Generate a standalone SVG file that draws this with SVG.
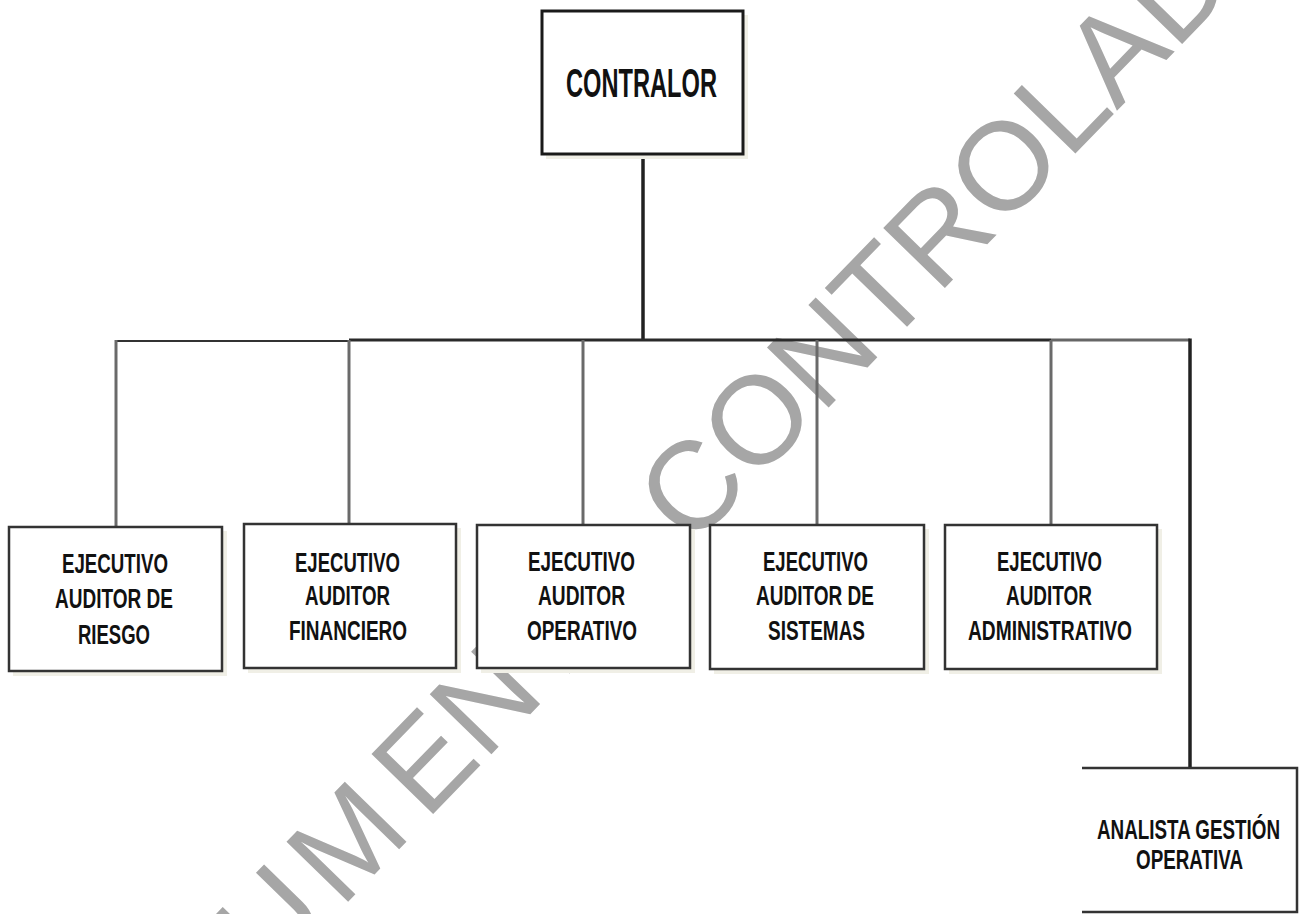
<svg xmlns="http://www.w3.org/2000/svg" width="1299" height="914" viewBox="0 0 1299 914">
<style>
.bg{fill:#ffffff}
.wm{font-family:"Liberation Sans",Arial,sans-serif;font-size:125px;fill:#a6a6a6}
.shadow{fill:#f0efe6;stroke:none}
.box{fill:#ffffff;stroke:#333333;stroke-width:2.5}
.top{fill:#ffffff;stroke:#1a1a1a;stroke-width:3}
.lbl{font-family:"Liberation Sans Narrow","Liberation Sans",Arial,sans-serif;font-weight:bold;font-size:27px;fill:#111111;text-anchor:middle}
.big{font-size:40px}
.bus{stroke:#2a2a2a;stroke-width:3;fill:none}
.busl{stroke:#333333;stroke-width:2;fill:none}
.busg{stroke:#666666;stroke-width:3;fill:none}
.drop{stroke:#6a6a6a;stroke-width:3;fill:none}
.dark{stroke:#222222;stroke-width:3.5;fill:none}
</style>
<rect class="bg" x="0" y="0" width="1299" height="914"/>
<text class="wm" transform="translate(75.9,1181.4) rotate(-45.8)"><tspan dx="0 0 0 0 12 18">DOCUMENTO CONTROLADO</tspan></text>
<g id="connectors">
<line class="dark" x1="643" y1="155" x2="643" y2="340"/>
<line class="busl" x1="115" y1="341" x2="349" y2="341"/>
<line class="bus" x1="349" y1="340" x2="1051" y2="340"/>
<line class="busg" x1="1051" y1="340" x2="1190" y2="340"/>
<line class="drop" x1="116" y1="340" x2="116" y2="527"/>
<line class="drop" x1="349" y1="340" x2="349" y2="524"/>
<line class="drop" x1="583" y1="340" x2="583" y2="525"/>
<line class="drop" x1="817" y1="340" x2="817" y2="525"/>
<line class="drop" x1="1051" y1="340" x2="1051" y2="525"/>
<line class="dark" x1="1190" y1="338.5" x2="1190" y2="768"/>
</g>
<g id="contralor">
<rect class="shadow" x="546" y="15" width="202" height="144"/>
<rect class="top" x="542" y="11" width="201" height="143"/>
<text class="lbl big" x="641.5" y="97" textLength="151" lengthAdjust="spacingAndGlyphs">CONTRALOR</text>
</g>
<g id="riesgo">
<rect class="shadow" x="13" y="531" width="214" height="145"/>
<rect class="box" x="9" y="527" width="213" height="144"/>
<text class="lbl" x="115" y="573" textLength="106" lengthAdjust="spacingAndGlyphs">EJECUTIVO</text>
<text class="lbl" x="114" y="608" textLength="118" lengthAdjust="spacingAndGlyphs">AUDITOR DE</text>
<text class="lbl" x="114" y="644" textLength="72" lengthAdjust="spacingAndGlyphs">RIESGO</text>
</g>
<g id="financiero">
<rect class="shadow" x="248" y="528" width="213" height="145"/>
<rect class="box" x="244" y="524" width="212" height="144"/>
<text class="lbl" x="347.5" y="572" textLength="105" lengthAdjust="spacingAndGlyphs">EJECUTIVO</text>
<text class="lbl" x="347.5" y="605" textLength="85" lengthAdjust="spacingAndGlyphs">AUDITOR</text>
<text class="lbl" x="348" y="640" textLength="118" lengthAdjust="spacingAndGlyphs">FINANCIERO</text>
</g>
<g id="operativo">
<rect class="shadow" x="481" y="529" width="214" height="144"/>
<rect class="box" x="477" y="525" width="213" height="143"/>
<text class="lbl" x="581.5" y="571" textLength="107" lengthAdjust="spacingAndGlyphs">EJECUTIVO</text>
<text class="lbl" x="581.5" y="605" textLength="87" lengthAdjust="spacingAndGlyphs">AUDITOR</text>
<text class="lbl" x="582" y="640" textLength="110" lengthAdjust="spacingAndGlyphs">OPERATIVO</text>
</g>
<g id="sistemas">
<rect class="shadow" x="714" y="529" width="215" height="145"/>
<rect class="box" x="710" y="525" width="214" height="144"/>
<text class="lbl" x="815.5" y="571" textLength="105" lengthAdjust="spacingAndGlyphs">EJECUTIVO</text>
<text class="lbl" x="815" y="605" textLength="118" lengthAdjust="spacingAndGlyphs">AUDITOR DE</text>
<text class="lbl" x="816.5" y="640" textLength="97" lengthAdjust="spacingAndGlyphs">SISTEMAS</text>
</g>
<g id="administrativo">
<rect class="shadow" x="949" y="529" width="213" height="145"/>
<rect class="box" x="945" y="525" width="212" height="144"/>
<text class="lbl" x="1049.5" y="571" textLength="105" lengthAdjust="spacingAndGlyphs">EJECUTIVO</text>
<text class="lbl" x="1049" y="605" textLength="86" lengthAdjust="spacingAndGlyphs">AUDITOR</text>
<text class="lbl" x="1050" y="640" textLength="164" lengthAdjust="spacingAndGlyphs">ADMINISTRATIVO</text>
</g>
<g id="analista">
<path class="box" d="M1082,768 H1297 V912 H1082"/>
<text class="lbl" x="1188.5" y="839" textLength="183" lengthAdjust="spacingAndGlyphs">ANALISTA GESTIÓN</text>
<text class="lbl" x="1189.5" y="869" textLength="107" lengthAdjust="spacingAndGlyphs">OPERATIVA</text>
</g>
</svg>
